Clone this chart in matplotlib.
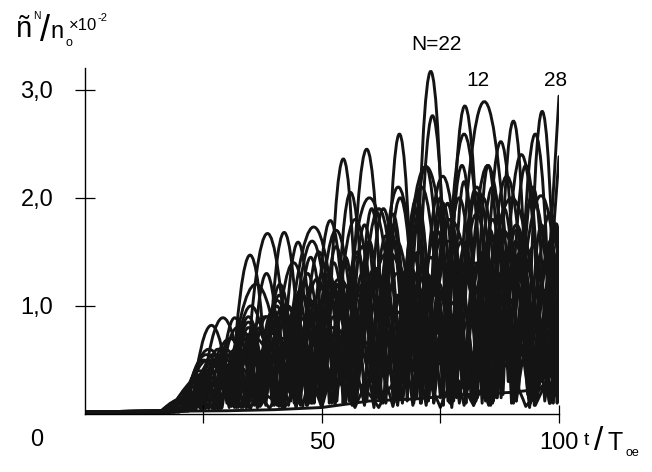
import matplotlib
matplotlib.use("Agg")
import matplotlib.pyplot as plt
from matplotlib.path import Path
from matplotlib.patches import PathPatch

plt.rcParams['font.family'] = ['Liberation Sans', 'DejaVu Sans']

# noise floor before the modes start to grow
FLOOR = 0.02

# each mode N: alternating trough / peak points (t/T_oe, n^N/n_o x 1e-2),
# read off the figure; starts on a trough
n05 = [(20, .02), (32, .25), (42, .05), (52, .4), (62, .06), (72, .5), (82, .08), (91, .55), (100, .12)]
n06 = [(19, .02), (21.1, .08), (23.2, .04), (25.3, .25), (27.4, .05), (29.5, .4), (31.6, .06), (33.7, .5),
       (35.8, .08), (37.9, .6), (40, .08), (42.1, .65), (44.2, .1), (46.3, .7), (48.4, .1), (50.5, .8),
       (52.6, .12), (54.7, .75), (56.8, .1), (58.9, .9), (61, .12), (63.1, .85), (65.2, .1), (67.3, .95),
       (69.4, .12), (71.5, 1.0), (73.6, .1), (75.7, .9), (77.8, .12), (79.9, 1.05), (82, .1), (84.1, 1.0),
       (86.2, .12), (88.3, 1.1), (90.4, .1), (92.5, 1.05), (94.6, .12), (96.7, 1.15), (98.8, .1), (100, .6)]
n07 = [(22, .03), (30, .35), (39, .05), (48, .45), (57, .06), (66, .55), (75, .06), (84, .6), (93, .07), (100, .45)]
n08 = [(18, .02), (27, .4), (34, .06), (42, .7), (50, .08), (58, .9), (66, .1), (74, 1.1), (82, .08), (90, 1.3),
       (98, .1), (100, .3)]
n09 = [(22, .03), (28, .45), (35, .05), (42.5, .55), (50, .06), (57.5, .7), (65, .07), (72.5, .8), (80, .08),
       (87.5, .9), (95, .08), (100, .55)]
n11 = [(22, .03), (27, .5), (33, .06), (39.5, .65), (46, .07), (52.5, .8), (59, .08), (65.5, .95), (72, .08),
       (78.5, 1.05), (85, .1), (91.5, 1.1), (98, .1), (100, .35)]
n13 = [(21.5, .03), (26, .6), (31, .07), (37, .75), (43, .08), (49, .95), (55, .1), (61, 1.1), (67, .1),
       (73, 1.25), (79, .1), (85, 1.35), (91, .12), (97, 1.3), (100, 1.1)]
n15 = [(21, .03), (25.5, .55), (30.5, .06), (35.9, .7), (41.3, .08), (46.7, .9), (52.1, .1), (57.5, 1.1),
       (62.9, .1), (68.3, 1.25), (73.7, .12), (79.1, 1.35), (84.5, .12), (89.9, 1.45), (95.3, .12), (100, 1.35)]
n17 = [(17, .02), (22, .15), (27, .05), (32, .6), (37, .07), (42, .85), (47, .08), (52, 1.05), (57, .1),
       (62, 1.2), (67, .12), (72, 1.3), (77, .12), (82, 1.4), (87, .15), (92, 1.5), (97, .12), (100, 1.0)]
n19 = [(21, .03), (25, .5), (29, .06), (33.6, .75), (38.2, .08), (42.8, 1.0), (47.4, .1), (52, 1.2), (56.6, .12),
       (61.2, 1.35), (65.8, .15), (70.4, 1.5), (75, .15), (79.6, 1.6), (84.2, .15), (88.8, 1.65), (93.4, .18),
       (98, 1.5), (100, 1.4)]
n21 = [(20.5, .03), (24, .4), (28, .06), (32.2, .8), (36.4, .08), (40.6, 1.05), (44.8, .1), (49, 1.25),
       (53.2, .12), (57.4, 1.45), (61.6, .15), (65.8, 1.6), (70, .15), (74.2, 1.7), (78.4, .15), (82.6, 1.85),
       (86.8, .15), (91, 1.75), (95.2, .18), (99.4, 1.6), (100, 1.55)]
n23 = [(18, .02), (23, .25), (27, .05), (30.8, .7), (34.6, .06), (38.4, .9), (42.2, .08), (46, 1.1), (49.8, .1),
       (53.6, 1.2), (57.4, .12), (61.2, 1.3), (65, .15), (68.8, 1.35), (72.6, .15), (76.4, 1.45), (80.2, .12),
       (84, 1.5), (87.8, .15), (91.6, 1.45), (95.4, .15), (99.2, 1.55), (100, 1.5)]
n25 = [(17, .02), (22.5, .15), (25.5, .05), (28.5, .55), (31.5, .07), (34.5, .8), (37.5, .1), (40.5, 1.0),
       (43.5, .12), (46.5, 1.2), (49.5, .15), (52.5, 1.4), (55.5, .18), (58.5, 1.55), (61.5, .2), (64.5, 1.7),
       (67.5, .25), (70.5, 1.85), (73.5, .25), (76.5, 1.95), (79.5, .3), (82.5, 2.05), (85.5, .25), (88.5, 1.9),
       (91.5, .2), (94.5, 2.1), (97.5, .25), (100, 1.7)]
n27 = [(18, .02), (20.7, .12), (23.4, .04), (26.1, .35), (28.8, .05), (31.5, .55), (34.2, .06), (36.9, .75),
       (39.6, .08), (42.3, .9), (45, .1), (47.7, 1.05), (50.4, .12), (53.1, 1.2), (55.8, .12), (58.5, 1.3),
       (61.2, .15), (63.9, 1.45), (66.6, .15), (69.3, 1.5), (72, .15), (74.7, 1.6), (77.4, .18), (80.1, 1.55),
       (82.8, .15), (85.5, 1.7), (88.2, .18), (90.9, 1.6), (93.6, .15), (96.3, 1.75), (99, .18), (100, .7)]
n29 = [(18, .02), (20.4, .1), (22.8, .04), (25.2, .35), (27.6, .05), (30, .5), (32.4, .06), (34.8, .65),
       (37.2, .08), (39.6, .75), (42, .06), (44.4, .9), (46.8, .08), (49.2, 1.0), (51.6, .1), (54, 1.1),
       (56.4, .08), (58.8, 1.2), (61.2, .1), (63.6, 1.15), (66, .08), (68.4, 1.3), (70.8, .1), (73.2, 1.25),
       (75.6, .08), (78, 1.35), (80.4, .1), (82.8, 1.4), (85.2, .08), (87.6, 1.3), (90, .1), (92.4, 1.45),
       (94.8, .08), (97.2, 1.4), (99.6, .1), (100, .3)]
n30 = [(17, .02), (21, .12), (23, .04), (25.5, .3), (27.5, .05), (30, .45), (32, .06), (34.5, .55), (36.5, .06),
       (39, .65), (41, .07), (43.5, .75), (45.5, .08), (48, .85), (50, .08), (52.5, .9), (54.5, .1), (57, 1.0),
       (59, .1), (61.5, 1.05), (63.5, .1), (66, 1.1), (68, .12), (70.5, 1.15), (72.5, .12), (75, 1.2), (77, .1),
       (79.5, 1.3), (81.5, .12), (84, 1.25), (86, .1), (88.5, 1.35), (90.5, .12), (93, 1.3), (95, .1),
       (97.5, 1.4), (100, .2)]
n31 = [(19, .02), (22.6, .2), (26.2, .05), (29.8, .6), (33.4, .06), (37, .8), (40.6, .08), (44.2, .95),
       (47.8, .1), (51.4, 1.1), (55, .1), (58.6, 1.2), (62.2, .12), (65.8, 1.3), (69.4, .1), (73, 1.45),
       (76.6, .12), (80.2, 1.5), (83.8, .1), (87.4, 1.6), (91, .12), (94.6, 1.55), (98.2, .1), (100, .9)]
n32 = [(18, .02), (21.5, .12), (25, .05), (30.7, .7), (36.5, .08), (42.2, 1.0), (48, .1), (53.7, 1.25),
       (59.5, .12), (65.2, 1.45), (71, .1), (76.7, 1.6), (82.5, .12), (88.2, 1.7), (94, .1), (100, 1.4)]
n34 = [(20, .02), (24.1, .2), (28.2, .04), (32.3, .45), (36.4, .06), (40.5, .55), (44.6, .05), (48.7, .65),
       (52.8, .08), (56.9, .7), (61, .06), (65.1, .8), (69.2, .08), (73.3, .85), (77.4, .06), (81.5, .9),
       (85.6, .08), (89.7, .95), (93.8, .06), (97.9, 1.0), (100, .6)]
n10 = [(19, .02), (25.5, .35), (31.5, .08), (38, .9), (44.5, .15), (51, 1.2), (57.5, .2), (64, 1.5), (70.5, .25),
       (77, 1.8), (83.5, .3), (90, 2.0), (96.5, .3), (100, 1.2)]
n12 = [(16, .02), (21, .1), (23.5, .04), (27, .55), (30, .1), (36, 1.2), (42, .2), (48.4, 1.73), (54, .3),
       (60, 2.0), (66, .35), (72, 2.29), (78, .3), (84.2, 2.89), (90.5, .35), (96, 2.0), (100, 1.0)]
n14 = [(21, .03), (26, .5), (30.5, .08), (35, 1.0), (39.5, .15), (44, 1.4), (48.5, .2), (53, 1.7), (57.5, .25),
       (62, 1.9), (66.5, .3), (71, 2.1), (75.5, .3), (80, 2.59), (84.5, .3), (89, 2.2), (93.5, .3), (98, 1.8),
       (100, 1.3)]
n16 = [(16, .02), (21, .12), (24.5, .05), (29, .89), (33.8, .12), (38.5, 1.67), (43.2, .2), (48, 1.6), (52.5, .25),
       (57, 1.8), (61.5, .3), (66, 2.1), (70.8, .35), (75.5, 2.2), (80.2, .35), (85, 2.3), (89.8, .3), (94.5, 2.0),
       (99, .3), (100, .8)]
n18 = [(16, .02), (19.5, .06), (22.5, .04), (26.7, .82), (30.8, .1), (35, 1.47), (38.5, .2), (42, 1.68),
       (45.7, .25), (49.5, 1.5), (52.7, .3), (56, 2.05), (59.5, .35), (63, 1.9), (66.5, .35), (70, 2.0),
       (73.5, .4), (77, 1.8), (80.5, .35), (84, 2.0), (87.5, .35), (91, 1.7), (94.5, .3), (98, 1.5), (100, 1.1)]
n20 = [(20, .02), (24.8, .35), (28.2, .05), (31.6, .89), (35, .12), (38.3, 1.3), (41.6, .2), (45, 1.59),
       (48.3, .25), (51.6, 1.79), (55.6, .3), (59.6, 2.45), (63, .35), (66.5, 2.0), (70, .4), (73.3, 2.76),
       (76.7, .45), (80, 2.85), (84, .4), (87.8, 2.52), (91.4, .35), (95, 2.59), (98.5, .4), (100, 1.2)]
n22 = [(16, .02), (22, .15), (25, .05), (28, .5), (31, .08), (34.5, .85), (38, .12), (41, 1.2), (44.5, .2),
       (47.5, 1.45), (51, .25), (54.7, 2.36), (57.7, .3), (60.5, 1.9), (63.3, .35), (66.3, 2.59), (69.5, .4),
       (73, 3.17), (76.3, .45), (79.5, 2.3), (83, .4), (86, 1.8), (89.3, .3), (92.5, 1.6), (96, .35), (99, 1.3),
       (100, 1.1)]
n24 = [(16, .02), (22, .15), (25, .05), (28, .6), (31, .1), (34.5, .9), (38, .15), (41, 1.1), (44, .2), (47, 1.3),
       (50, .25), (53, 1.55), (56, .3), (59, 1.75), (62, .35), (65, 1.85), (68, .35), (72, 2.29), (75.5, .4),
       (79, 2.0), (82.5, .35), (86, 2.1), (89.5, .3), (93, 2.3), (96.5, .3), (100, 2.38)]
n26 = [(16, .02), (21.5, .15), (24.5, .05), (27.5, .5), (30.5, .08), (33.5, .75), (36.5, .12), (39.5, .95),
       (42.5, .18), (45.5, 1.15), (48.5, .2), (51.5, 1.3), (54.5, .25), (57.5, 1.5), (60.5, .3), (63.5, 1.65),
       (66.5, .35), (69.5, 1.8), (72.5, .35), (75.5, 1.95), (78.7, .4), (82.5, 2.1), (87, .35), (90.5, 2.71),
       (93.5, .4), (96.4, 2.8), (99.4, .5), (100, .9)]
n28 = [(16, .02), (20, .1), (22.5, .04), (25, .3), (27.5, .06), (30, .55), (32.5, .1), (35, .75), (37.5, .15),
       (40, .95), (42.5, .2), (45, 1.1), (47.5, .25), (50, 1.3), (52.5, .3), (55, 1.45), (57.5, .35), (60, 1.6),
       (62.5, .4), (65, 1.75), (67.5, .45), (70, 1.9), (72.5, .5), (75, 2.0), (77.5, .5), (80, 2.15), (82.5, .5),
       (85, 2.3), (88, .45), (92, 2.4), (96.5, .35), (100, 2.94)]

# slowly growing mode along the bottom
slow_t = [0, 30, 40, 50, 60, 70, 80, 90, 100]
slow_y = [0.02, 0.03, 0.04, 0.06, 0.12, 0.14, 0.18, 0.2, 0.25]

MODES = [n05, n06, n07, n08, n09, n11, n13, n15, n17, n19, n21, n23, n25, n27, n29, n30, n31, n32, n34,
         n10, n12, n14, n16, n18, n20, n22, n24, n26, n28]

INK = '#141414'
LW = 2.1


def mode_path(points):
    """arches between successive troughs as quadratic Bezier pieces"""
    verts = [(0.0, FLOOR), points[0]]
    codes = [Path.MOVETO, Path.LINETO]
    i = 0
    while i + 2 < len(points):
        (ta, ya), (tp, hp), (tb, yb) = points[i], points[i + 1], points[i + 2]
        verts += [(tp, 2 * hp - (ya + yb) / 2), (tb, yb)]
        codes += [Path.CURVE3, Path.CURVE3]
        i += 2
    if i + 1 < len(points):
        # still rising at the right edge
        verts.append(points[i + 1])
        codes.append(Path.LINETO)
    return Path(verts, codes)


fig = plt.figure(figsize=(6.52, 4.72), dpi=100)
W, H = 652.0, 472.0
ax = fig.add_axes([84.5 / W, 58 / H, 474.5 / W, 346 / H])
ax.set_xlim(0, 100)
ax.set_ylim(0, 3.2)

for pts in MODES:
    ax.add_patch(PathPatch(mode_path(pts), fill=False, edgecolor=INK, linewidth=LW,
                           capstyle='round', joinstyle='round'))
ax.plot(slow_t, slow_y, color=INK, linewidth=LW)

for side in ('top', 'right'):
    ax.spines[side].set_visible(False)
for side in ('left', 'bottom'):
    ax.spines[side].set_linewidth(1.0)
    ax.spines[side].set_color('black')

ax.set_xticks([25, 50, 75, 100])
ax.set_xticklabels(['', '50', '', '100'])
ax.set_yticks([1, 2, 3])
ax.set_yticklabels(['1,0', '2,0', '3,0'])
ax.tick_params(axis='y', direction='inout', length=14, width=0.9, labelsize=17, pad=15.5)
ax.tick_params(axis='x', direction='inout', length=13, width=0.9, labelsize=17, pad=6.5)


def ftext(x, y, s, size, **kw):
    fig.text(x / W, 1 - y / H, s, fontsize=size, **kw)


# origin label sits left of the axis corner
ftext(36.5, 440, '0', 17, ha='center', va='center')

# y-axis quantity, top left
ftext(16, 37, 'ñ', 21, ha='left', va='baseline')
ftext(33, 11, 'N', 7.5, ha='left', va='top')
ftext(40, 41, '/', 26, ha='left', va='baseline')
ftext(50, 38, 'n', 17, ha='left', va='baseline')
ftext(65, 46, 'o', 9, ha='left', va='baseline')
ftext(69, 30, '×10', 12, ha='left', va='baseline')
ftext(98, 21, '-2', 8, ha='left', va='baseline')

# x-axis quantity, right of "100"
ftext(584, 445, 't', 14, ha='left', va='baseline')
ftext(594, 450, '/', 24, ha='left', va='baseline')
ftext(607, 450, 'T', 18, ha='left', va='baseline')
ftext(625, 456, 'oe', 9, ha='left', va='baseline')

# mode numbers
ftext(436, 44, 'N=22', 15, ha='center', va='center')
ftext(478, 81, '12', 15, ha='center', va='center')
ftext(556, 81, '28', 15, ha='center', va='center')

fig.savefig('out.png', dpi=100, facecolor='white')
